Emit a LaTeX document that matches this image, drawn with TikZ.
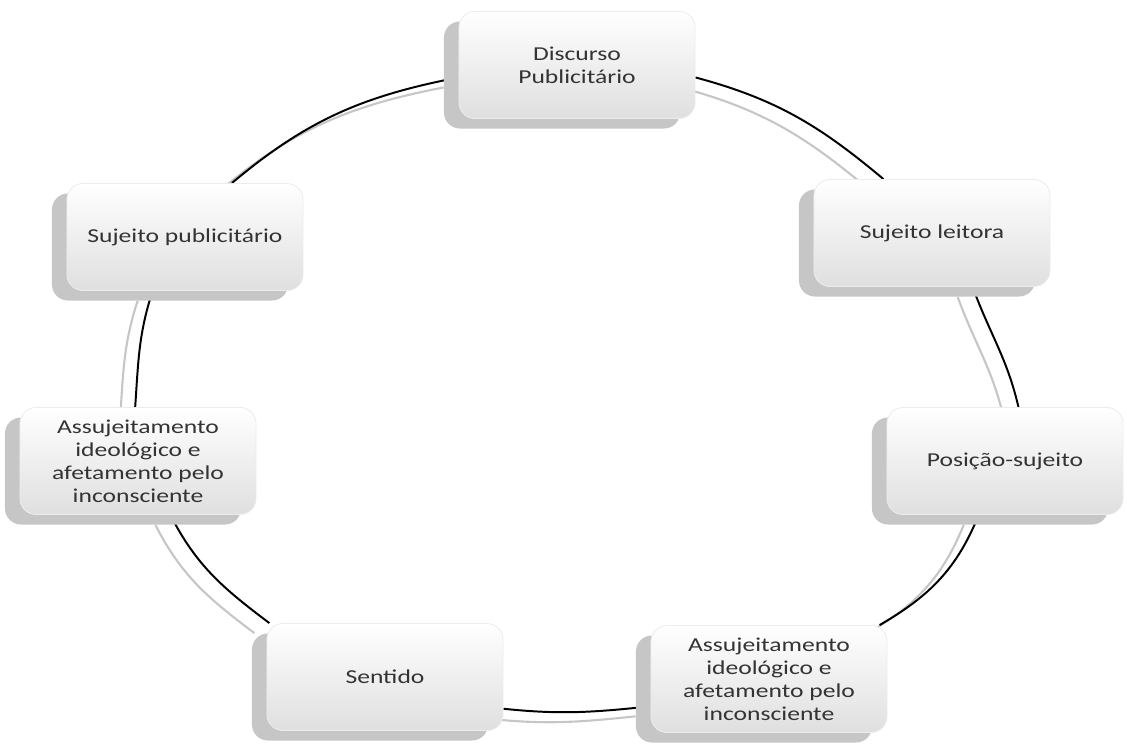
\documentclass[tikz,border=0pt]{standalone}
\usepackage{fontspec}
\newfontfamily\boxfont[FakeStretch=1.3]{Carlito}
\usepackage{tikz}
\usetikzlibrary{shadows,backgrounds}
\tikzset{
    every node/.style={font=\boxfont\fontsize{14}{16.3}\selectfont},
    box node/.style={rounded corners=0.4cm,draw=gray!15,top color=white,bottom color=gray!25,
        minimum width=5.9cm,minimum height=2.675cm,align=center,text=black!80,
        drop shadow={shadow xshift=-0.375cm,shadow yshift=-0.25cm,fill=gray!45,opacity=1}},
    ring/.style={line width=1.4pt,draw=black,
        preaction={draw=gray!45,line width=1.5pt,transform canvas={shift={(-15,-10)}}}}
}
\begin{document}
\begin{tikzpicture}[
            x = 0.025cm, % one unit is one pixel
            y = 0.025cm,
            semithick % line style
        ]
        \useasboundingbox (0,0) rectangle (1127,744);

        \node[box node] (disc) at (577,679) {Discurso\\Publicitário};
        \node[box node] (leit) at (932,511) {Sujeito leitora};
        \node[box node] (pos) at (1005,283) {Posição-sujeito};
        \node[box node] (assr) at (769,65) {Assujeitamento\\ideológico e\\afetamento pelo\\inconsciente};
        \node[box node] (sent) at (385,67) {Sentido};
        \node[box node] (assl) at (138,283) {Assujeitamento\\ideológico e\\afetamento pelo\\inconsciente};
        \node[box node] (pub) at (185,507) {Sujeito publicitário};

        % the cycle runs under the boxes
        \begin{scope}[on background layer]
        \path (disc.-6) edge[ring, out=-15, in=140] (leit.132);
        \path (leit.-53) edge[ring, out=-70, in=103] (pos.76);
        \path (pos.-116) edge[ring, out=-112, in=30] (assr.26);
        \path (assr.-167) edge[ring, out=-174, in=-6] (sent.-15);
        \path (sent.155) edge[ring, out=143, in=-63] (assl.-59);
        \path (assl.93) edge[ring, out=86, in=-108] (pub.-121);
        \path (pub.49) edge[ring, out=40, in=-169] (disc.-174);
        \end{scope}

  \end{tikzpicture}
\end{document}
